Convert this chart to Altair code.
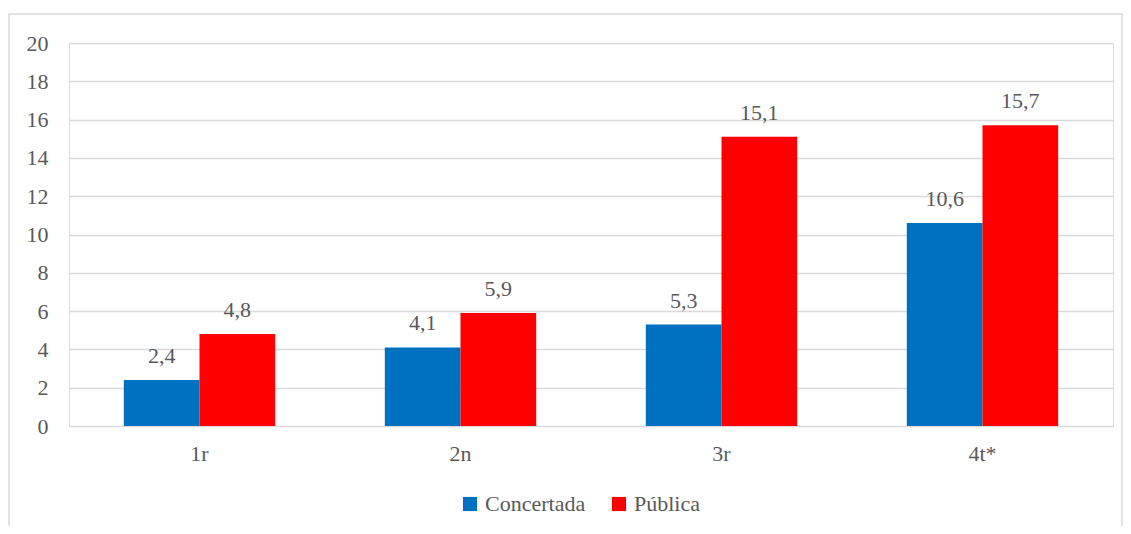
import altair as alt
import pandas as pd

categories = ["1r", "2n", "3r", "4t*"]
series = ["Concertada", "Pública"]
concertada = [2.4, 4.1, 5.3, 10.6]
publica = [4.8, 5.9, 15.1, 15.7]
colors = ["#0070C0", "#FF0000"]

rows = []
for c, v1, v2 in zip(categories, concertada, publica):
    rows.append({"cat": c, "serie": series[0], "val": v1, "lab": f"{v1:.1f}".replace(".", ",")})
    rows.append({"cat": c, "serie": series[1], "val": v2, "lab": f"{v2:.1f}".replace(".", ",")})
df = pd.DataFrame(rows)

FONT = "'Times New Roman', 'Liberation Serif', 'DejaVu Serif', Times, serif"
TXT = "#595959"
FS = 22
W, H = 1044, 383

x = alt.X("cat:N", sort=categories, title=None,
          scale=alt.Scale(paddingInner=0.42, paddingOuter=0.21),
          axis=alt.Axis(labelAngle=0, ticks=False, domain=False, labelPadding=17,
                        labelFontSize=FS, labelColor=TXT, labelFont=FONT))
xo = alt.XOffset("serie:N", sort=series, scale=alt.Scale(paddingInner=0, paddingOuter=0))
y = alt.Y("val:Q", title=None, scale=alt.Scale(domain=[0, 20], nice=False),
          axis=alt.Axis(values=list(range(0, 21, 2)), ticks=False, domain=False,
                        labelPadding=21, labelFontSize=FS, labelColor=TXT, labelFont=FONT,
                        gridColor="#d9d9d9", gridWidth=1.3))
color = alt.Color("serie:N", sort=series, title=None,
                  scale=alt.Scale(domain=series, range=colors),
                  legend=alt.Legend(orient="none", direction="horizontal", legendX=390, legendY=450,
                                    symbolType="square", symbolSize=200, symbolStrokeWidth=0,
                                    labelFontSize=FS, labelColor=TXT, labelFont=FONT,
                                    columnPadding=22, labelOffset=4))

border = alt.Chart(pd.DataFrame({"a": [0]})).mark_rect(
    fill=None, stroke="#d9d9d9", strokeWidth=1.5
).encode(x=alt.value(-60), x2=alt.value(1053), y=alt.value(-29), y2=alt.value(520))

bars = alt.Chart(df).mark_bar().encode(x=x, xOffset=xo, y=y, color=color)
labels = alt.Chart(df).mark_text(dy=-24, fontSize=FS, color=TXT, font=FONT).encode(
    x=x, xOffset=xo, y=y, text="lab:N")

chart = alt.layer(border, bars, labels).properties(
    width=W, height=H,
    autosize=alt.AutoSizeParams(type="none"),
    padding={"left": 61, "top": 35, "right": 10, "bottom": 100},
).configure_view(stroke=None).configure(background="white", font=FONT)

chart.save("out.html", embed_options={"renderer": "svg", "actions": False})
